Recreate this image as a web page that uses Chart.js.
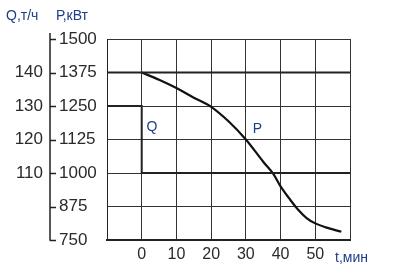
<!DOCTYPE html>
<html>
<head>
<meta charset="utf-8">
<script src="https://cdn.jsdelivr.net/npm/chart.js@4.4.0/dist/chart.umd.min.js"></script>
<style>
  html, body { margin: 0; padding: 0; background: #fff; }
</style>
</head>
<body>
<canvas id="chart" width="394" height="273"></canvas>
<script>
// time axis, min
const timeRange = [-10, 60];
const timeTicks = [0, 10, 20, 30, 40, 50];
// power axis, kW
const powerRange = [750, 1500];
const powerTicks = [750, 875, 1000, 1125, 1250, 1375, 1500];
// flow axis, t/h (same grid as power)
const flowRange = [90, 150];
const flowTicks = [110, 120, 130, 140];

// P curve
const powerTime = [0, 5, 10, 15, 20, 25, 30, 35, 38, 40, 42.5, 45, 47.5, 50, 53, 57.5];
const powerValues = [1375, 1348, 1317, 1281, 1247, 1193, 1125, 1042, 995, 950, 905, 864, 832, 812, 797, 781];
// Q step
const flowTime = [-10, 0, 0, 60];
const flowValues = [130, 130, 110, 110];
// nominal line
const baseTime = [-10, 60];
const baseValues = [1375, 1375];

const ink = "#2a2a2a";
const blue = "#1f3c88";
const family = "'Liberation Sans', Arial, sans-serif";

Chart.defaults.font.family = family;
Chart.defaults.color = ink;

function points(xs, ys) {
  return xs.map((x, i) => ({ x: x, y: ys[i] }));
}

function fixedTicks(values) {
  return (scale) => {
    scale.ticks = values.map((v) => ({ value: v }));
  };
}

const extras = {
  id: "extras",
  afterDraw(chart) {
    const ctx = chart.ctx;
    const x = chart.scales.x;
    const y = chart.scales.y;
    const axisX = 50;
    ctx.save();
    // detached left axis with ticks
    ctx.strokeStyle = "#222";
    ctx.lineWidth = 1.5;
    ctx.beginPath();
    ctx.moveTo(axisX, y.getPixelForValue(powerRange[1]) - 6);
    ctx.lineTo(axisX, y.getPixelForValue(powerRange[0]) + 0.75);
    powerTicks.forEach((v) => {
      const py = Math.round(y.getPixelForValue(v)) + 0.5;
      ctx.moveTo(axisX, py);
      ctx.lineTo(axisX + 6, py);
    });
    ctx.stroke();

    ctx.fillStyle = blue;
    ctx.textBaseline = "middle";
    ctx.font = "14px " + family;
    ctx.fillText("Q,т/ч", 6, 16);
    ctx.fillText("Р,кВт", 56, 16);
    ctx.fillText("t,мин", 335, 258);
    ctx.fillText("Q", x.getPixelForValue(1.4), y.getPixelForValue(1170));
    ctx.fillText("P", x.getPixelForValue(32), y.getPixelForValue(1165));
    ctx.restore();
  },
};

new Chart(document.getElementById("chart"), {
  type: "line",
  data: {
    datasets: [
      {
        label: "base",
        data: points(baseTime, baseValues),
        yAxisID: "y",
        borderColor: "#222",
        borderWidth: 2,
        pointRadius: 0,
      },
      {
        label: "Q",
        data: points(flowTime, flowValues),
        yAxisID: "q",
        borderColor: "#222",
        borderWidth: 2,
        pointRadius: 0,
      },
      {
        label: "P",
        data: points(powerTime, powerValues),
        yAxisID: "y",
        borderColor: "#111",
        borderWidth: 2.2,
        pointRadius: 0,
        cubicInterpolationMode: "monotone",
      },
    ],
  },
  options: {
    responsive: false,
    animation: false,
    devicePixelRatio: 1,
    layout: { padding: { top: 39, right: 44, bottom: 0, left: 0 } },
    plugins: {
      legend: { display: false },
      tooltip: { enabled: false },
    },
    scales: {
      x: {
        type: "linear",
        min: timeRange[0],
        max: timeRange[1],
        afterBuildTicks: fixedTicks([timeRange[0], ...timeTicks, timeRange[1]]),
        ticks: {
          callback: (v) => (timeTicks.includes(v) ? String(v) : ""),
          font: { size: 16 },
          padding: 5,
          maxRotation: 0,
          autoSkip: false,
        },
        grid: { color: "#333", lineWidth: 1, drawTicks: false },
        border: { color: "#222", width: 2 },
        afterFit: (s) => { s.height = 33; },
      },
      y: {
        position: "left",
        weight: 0,
        min: powerRange[0],
        max: powerRange[1],
        afterBuildTicks: fixedTicks(powerTicks),
        ticks: { callback: (v) => String(v), crossAlign: "far", font: { size: 17 }, padding: 0 },
        grid: { color: "#333", lineWidth: 1, drawTicks: false },
        border: { color: "#222", width: 1 },
        afterFit: (s) => { s.width = 48; },
      },
      q: {
        position: "left",
        weight: 1,
        min: flowRange[0],
        max: flowRange[1],
        afterBuildTicks: fixedTicks(flowTicks),
        ticks: { callback: (v) => String(v), font: { size: 17 }, padding: 16 },
        grid: { display: false, drawTicks: false },
        border: { display: false },
        afterFit: (s) => { s.width = 59; },
      },
    },
  },
  plugins: [extras],
});
</script>
</body>
</html>
